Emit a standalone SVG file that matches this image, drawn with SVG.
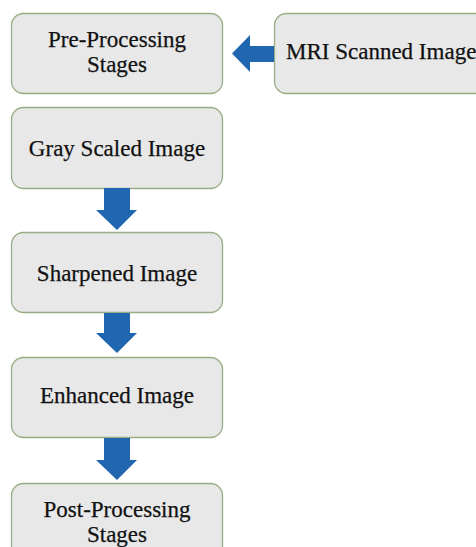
<svg xmlns="http://www.w3.org/2000/svg" width="476" height="547" viewBox="0 0 476 547">
<style>
.box{fill:#e8e8e8;stroke:#98ad86;stroke-width:1.3}
.t{font-family:'Liberation Serif','Times New Roman',Tinos,'DejaVu Serif',serif;font-size:23px;fill:#111111;stroke:#111111;stroke-width:0.25;text-anchor:middle}
.arr{fill:#2166b0}
</style>
<rect width="476" height="547" fill="#ffffff"/>
<g id="pre">
<rect class="box" x="11.5" y="13.5" width="211" height="80" rx="12"/>
<text class="t" x="117" y="47">Pre-Processing</text>
<text class="t" x="117" y="72">Stages</text>
</g>
<g id="mri">
<rect class="box" x="274.5" y="13.5" width="215" height="80" rx="12"/>
<text class="t" x="286" y="59" style="text-anchor:start">MRI Scanned Image</text>
</g>
<g id="gray">
<rect class="box" x="11.5" y="107.5" width="211" height="81" rx="12"/>
<text class="t" x="117" y="156">Gray Scaled Image</text>
</g>
<g id="sharp">
<rect class="box" x="11.5" y="232.5" width="211" height="80" rx="12"/>
<text class="t" x="117" y="281">Sharpened Image</text>
</g>
<g id="enh">
<rect class="box" x="11.5" y="357.5" width="211" height="80" rx="12"/>
<text class="t" x="117" y="403">Enhanced Image</text>
</g>
<g id="post">
<rect class="box" x="11.5" y="483.5" width="211" height="80" rx="12"/>
<text class="t" x="117" y="517">Post-Processing</text>
<text class="t" x="117" y="542">Stages</text>
</g>
<g id="connectors">
<polygon class="arr" points="274,46 250,46 250,35 232,53.5 250,72 250,62 274,62"/>
<polygon class="arr" points="104,188 130,188 130,210 137,210 117,230 96,210 104,210"/>
<polygon class="arr" points="104,313 130,313 130,333 137,333 117,353 96,333 104,333"/>
<polygon class="arr" points="104,438 130,438 130,460 137,460 117,480 96,460 104,460"/>
</g>
</svg>
